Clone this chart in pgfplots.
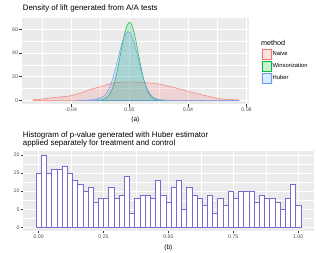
\documentclass[border=0pt]{standalone}
\usepackage{pgfplots}
\pgfplotsset{compat=1.18}
\usepackage{fontspec}
\setmainfont{Liberation Sans}
\definecolor{ggbg}{HTML}{EBEBEB}
\definecolor{ggtick}{HTML}{4D4D4D}
\definecolor{ggred}{HTML}{F8766D}
\definecolor{gggreen}{HTML}{00BA38}
\definecolor{ggblue}{HTML}{619CFF}
\definecolor{histc}{HTML}{6A5ACD}
\pgfplotsset{
  ggstyle/.style={
    scale only axis,
    axis background/.style={fill=ggbg},
    axis line style={draw=none},
    grid=both,
    major grid style={white, line width=0.55pt},
    minor grid style={white, line width=0.3pt},
    xtick pos=left, ytick pos=left,
    tick align=outside,
    major tick length=2.4pt,
    minor tick length=0pt,
    tick style={color=ggtick!70!black, line width=0.4pt},
    ticklabel style={font=\fontsize{5.2}{6}\selectfont, text=ggtick},
    xticklabel style={inner sep=1.2pt},
    yticklabel style={inner sep=1.2pt},
    scaled ticks=false,
    /pgf/number format/assume math mode=true,
  }
}
\begin{document}
\begin{tikzpicture}
\path[use as bounding box] (0pt,0pt) rectangle (316pt,253pt);
% ---------- top panel ----------
\begin{axis}[ggstyle,
  at={(21.7pt,148.8pt)}, anchor=south west,
  width=227.3pt, height=86.2pt,
  xmin=-0.0737, xmax=0.0817, ymin=-3.3, ymax=69.5,
  xtick={-0.04,0,0.04,0.08}, xticklabels={-0.04,0.00,0.04,0.08},
  minor xtick={-0.06,-0.02,0.02,0.06},
  ytick={0,20,40,60}, minor ytick={10,30,50},
  legend cell align=left,
  legend image code/.code={\fill[white!95!black] (0pt,-5.3pt) rectangle (10.4pt,5.3pt);
     \draw[#1] (0.25pt,-5.05pt) rectangle (10.15pt,5.05pt);},
  legend style={at={(1.053,0.648)}, anchor=north west, draw=none, fill=none,
     font=\fontsize{5.8}{7}\selectfont, row sep=1.1pt, inner sep=0pt,
     nodes={inner sep=0.6pt}},
]
\addplot[draw=ggred, fill=ggred, fill opacity=0.2, line width=0.45pt] coordinates {
(-0.066,0.4) (-0.062,0.8) (-0.058,1.4) (-0.054,1.9) (-0.050,2.5) (-0.046,3.0)
(-0.041,3.6) (-0.035,5.5) (-0.029,8.1) (-0.025,9.8) (-0.020,11.5) (-0.015,13.4)
(-0.010,14.9) (-0.005,15.4) (0.000,15.5) (0.005,15.4) (0.010,15.0) (0.015,14.5)
(0.020,13.8) (0.025,12.5) (0.030,11.0) (0.035,9.2) (0.041,7.3) (0.046,5.8)
(0.050,4.5) (0.054,3.3) (0.058,2.2) (0.063,1.1) (0.068,0.6) (0.072,0.45) (0.075,0.4)
} \closedcycle;
\addlegendentry{Naive}
\addplot[draw=gggreen, fill=gggreen, fill opacity=0.2, line width=0.45pt] coordinates {
(-0.023,0.05) (-0.0205,0.15) (-0.018,0.7) (-0.0165,1.5) (-0.015,2.9) (-0.0135,5.3)
(-0.012,8.9) (-0.0105,14.3) (-0.009,21.4) (-0.0075,30.2) (-0.006,40.0)
(-0.0045,49.8) (-0.003,58.2) (-0.0015,64.0) (0.000,66.0) (0.0015,64.0)
(0.003,58.2) (0.0045,49.8) (0.006,40.0) (0.0075,30.2) (0.009,21.4)
(0.0105,14.3) (0.012,8.9) (0.0135,5.3) (0.015,2.9) (0.0165,1.5) (0.018,0.7)
(0.021,0.15) (0.024,0.05)
} \closedcycle;
\addlegendentry{Winsorization}
\addplot[draw=ggblue, fill=ggblue, fill opacity=0.2, line width=0.45pt] coordinates {
(-0.036,0.05) (-0.031,0.1) (-0.028,0.2) (-0.025,0.5) (-0.022,1.3) (-0.019,2.5)
(-0.0175,3.6) (-0.016,5.5) (-0.0145,8.6) (-0.013,12.8) (-0.0115,18.2)
(-0.010,24.8) (-0.0085,32.1) (-0.007,39.7) (-0.0055,46.9) (-0.004,52.8)
(-0.0025,56.6) (-0.001,58.0) (0.0005,56.6) (0.002,52.8) (0.0035,46.9)
(0.005,39.7) (0.0065,32.1) (0.008,24.8) (0.0095,18.2) (0.011,12.8)
(0.0125,8.6) (0.014,5.5) (0.0155,3.3) (0.017,1.9) (0.020,0.56) (0.023,0.15)
(0.027,0.05) (0.035,0.02) (0.050,0.02) (0.065,0.02) (0.075,0.02)
} \closedcycle;
\addlegendentry{Huber}
\end{axis}
\node[anchor=west, inner sep=0pt, font=\fontsize{7.2}{8}\selectfont] at (261pt,209.7pt) {method};
\node[anchor=base west, inner sep=0pt, font=\fontsize{7.9}{9}\selectfont] at (22.7pt,242.7pt) {Density of lift generated from A/A tests};
\node[inner sep=0pt, font=\fontsize{6.6}{8}\selectfont] at (135.4pt,133pt) {(a)};
% ---------- bottom panel ----------
\begin{axis}[ggstyle,
  at={(23.3pt,22pt)}, anchor=south west,
  width=290.2pt, height=79.6pt,
  xmin=-0.059, xmax=1.059, ymin=-1, ymax=21,
  xtick={0,0.25,0.5,0.75,1}, xticklabels={0.00,0.25,0.50,0.75,1.00},
  minor xtick={0.125,0.375,0.625,0.875},
  ytick={0,5,10,15,20}, minor ytick={2.5,7.5,12.5,17.5},
]
\addplot[ybar, bar width=0.02, fill=white, draw=histc!90!white, line width=0.45pt] coordinates {
(0.00,15) (0.02,20) (0.04,15) (0.06,16) (0.08,16) (0.10,17) (0.12,15) (0.14,13)
(0.16,12) (0.18,10) (0.20,11) (0.22,7) (0.24,8) (0.26,8) (0.28,11) (0.30,8) (0.32,9)
(0.34,14) (0.36,4) (0.38,8) (0.40,9) (0.42,9) (0.44,8) (0.46,13) (0.48,9) (0.50,7)
(0.52,11) (0.54,13) (0.56,5) (0.58,11) (0.60,9) (0.62,8) (0.64,6) (0.66,9)
(0.68,4) (0.70,8) (0.72,6) (0.74,10) (0.76,8) (0.78,10) (0.80,10) (0.82,10)
(0.84,7) (0.86,9) (0.88,8) (0.90,8) (0.92,7) (0.94,5) (0.96,8) (0.98,12) (1.00,6)
};
\end{axis}
\node[anchor=base west, inner sep=0pt, font=\fontsize{7.9}{9}\selectfont] at (22.7pt,115.5pt) {Histogram of p-value generated with Huber estimator};
\node[anchor=base west, inner sep=0pt, font=\fontsize{7.9}{9}\selectfont] at (22.7pt,107.2pt) {applied separately for treatment and control};
\node[inner sep=0pt, font=\fontsize{6.6}{8}\selectfont] at (168.4pt,5.5pt) {(b)};
\end{tikzpicture}
\end{document}
